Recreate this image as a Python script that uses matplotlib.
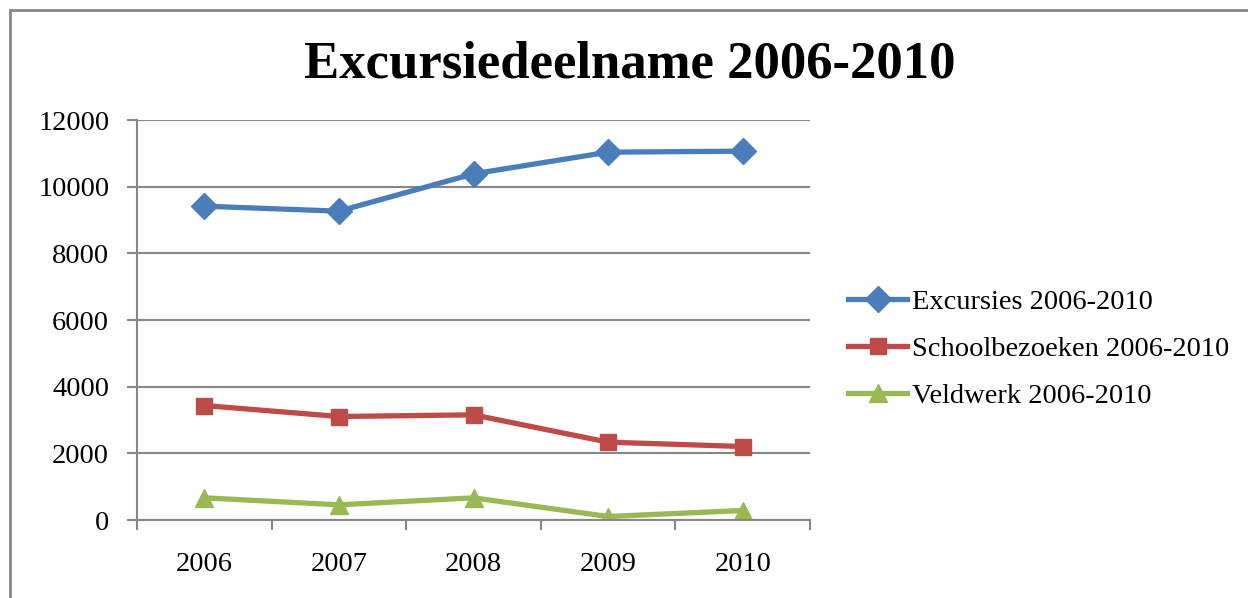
import matplotlib
matplotlib.use("Agg")
import matplotlib.pyplot as plt
from matplotlib.patches import Rectangle

years = ["2006", "2007", "2008", "2009", "2010"]
excursies = [9415, 9265, 10385, 11035, 11065]
schoolbezoeken = [3435, 3105, 3155, 2335, 2205]
veldwerk = [665, 455, 665, 105, 285]
labels = ["Excursies 2006-2010", "Schoolbezoeken 2006-2010", "Veldwerk 2006-2010"]
yticks = [0, 2000, 4000, 6000, 8000, 10000, 12000]
title = "Excursiedeelname 2006-2010"

W, H = 1248, 598
fig = plt.figure(figsize=(W / 100, H / 100), dpi=100)
ax = fig.add_axes([137 / W, 1 - 520 / H, (810 - 137) / W, 400 / H])

font = "Liberation Serif"
grey = "#868686"

x = list(range(len(years)))
ax.plot(x, excursies, color="#4A7EBB", lw=3.8, marker="D", ms=13, label=labels[0], solid_joinstyle="round")
ax.plot(x, schoolbezoeken, color="#BE4B48", lw=3.8, marker="s", ms=11, label=labels[1], solid_joinstyle="round")
ax.plot(x, veldwerk, color="#98B954", lw=3.8, marker="^", ms=13, label=labels[2], solid_joinstyle="round")

ax.set_xlim(-0.5, len(years) - 0.5)
ax.set_ylim(0, 12000)
ax.set_yticks(yticks)
ax.set_yticklabels([str(v) for v in yticks], fontfamily=font, fontsize=20.5)
ax.set_xticks(x)
ax.set_xticklabels(years, fontfamily=font, fontsize=20.5)
ax.set_xticks([i - 0.5 for i in range(len(years) + 1)], minor=True)
ax.tick_params(axis="x", which="major", length=0, pad=23)
ax.tick_params(axis="x", which="minor", length=7, width=1.5, color=grey, direction="out")
ax.tick_params(axis="y", length=7, width=1.5, color=grey, pad=13)

ax.grid(axis="y", color=grey, lw=1.5)
ax.set_axisbelow(True)
for s in ["top", "right"]:
    ax.spines[s].set_visible(False)
for s in ["left", "bottom"]:
    ax.spines[s].set_color(grey)
    ax.spines[s].set_linewidth(1.5)

fig.text(630 / W, 1 - 77 / H, title, ha="center", va="baseline",
         fontfamily=font, fontweight="bold", fontsize=38)

leg = fig.legend(loc="center left", bbox_to_anchor=(822 / W, 1 - 349 / H),
                 prop={"family": font, "size": 20.5}, frameon=False,
                 handlelength=2.1, handletextpad=0.15, labelspacing=0.75)

fig.patches.append(Rectangle((10 / W, -0.1), 1.2, (1 - 10 / H) + 0.1,
                             transform=fig.transFigure, fill=False,
                             edgecolor=grey, lw=2, clip_on=False))

fig.savefig("out.png", dpi=100)
